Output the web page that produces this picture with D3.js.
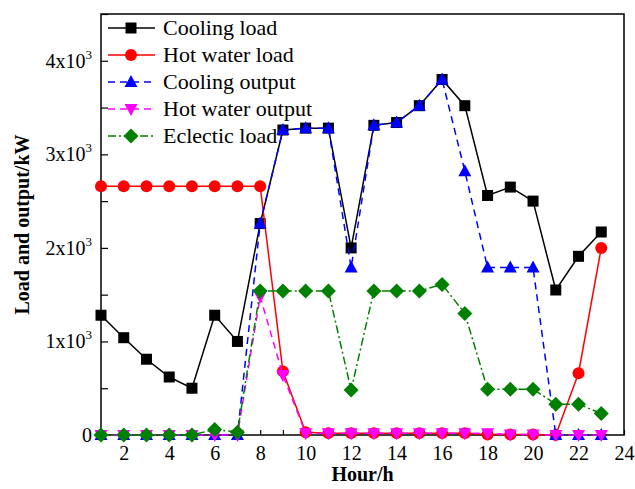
<!DOCTYPE html>
<html>
<head>
<meta charset="utf-8">
<script src="https://cdn.jsdelivr.net/npm/d3@7"></script>
<style>
body { margin: 0; background: #fff; }
text { font-family: "Liberation Serif", "Times New Roman", serif; }
</style>
</head>
<body>
<script>
var hours = d3.range(1, 24);

var coolingLoad = [1280,1040,810,620,500,1280,1000,2260,3260,3280,3280,2000,3310,3340,3520,3800,3520,2560,2650,2500,1550,1910,2170];
var hotWaterLoad = [2660,2660,2660,2660,2660,2660,2660,2660,680,30,20,20,20,20,20,20,20,5,5,5,0,660,2000];
var coolingOutput = [0,0,0,0,0,0,0,2260,3260,3280,3280,1790,3310,3340,3520,3800,2820,1790,1790,1790,0,0,0];
var hotWaterOutput = [0,0,0,0,0,0,0,1480,640,20,20,20,20,20,20,20,20,20,5,5,0,0,0];
var electricLoad = [0,0,0,0,0,60,30,1540,1540,1540,1540,480,1540,1540,1540,1610,1300,490,490,490,330,330,230];

var seriesNames = ["Cooling load","Hot water load","Cooling output","Hot water output","Eclectic load"];
var seriesValues = [coolingLoad, hotWaterLoad, coolingOutput, hotWaterOutput, electricLoad];
var xTicks = [2,4,6,8,10,12,14,16,18,20,22,24];
var yTicks = [0,1000,2000,3000,4000];

var styles = [
  {color:"#000000", dash:null, marker:"square"},
  {color:"#ff0000", dash:null, marker:"circle"},
  {color:"#0000ff", dash:"7,5", marker:"up"},
  {color:"#ff00ff", dash:"7,5", marker:"down"},
  {color:"#008000", dash:"8,3,2,3", marker:"diamond"}
];

var width = 635, height = 489;
var margin = {left:101, right:11, top:14, bottom:54};

var svg = d3.select("body").append("svg").attr("width",width).attr("height",height);

var x = d3.scaleLinear().domain([1,24]).range([margin.left, width-margin.right]);
var y = d3.scaleLinear().domain([0,4500]).range([height-margin.bottom, margin.top]);

// frame
svg.append("rect")
  .attr("x",x(1)).attr("y",y(4500))
  .attr("width",x(24)-x(1)).attr("height",y(0)-y(4500))
  .attr("fill","none").attr("stroke","#000").attr("stroke-width",1.5);

// x axis, ticks inward
var xAxis = svg.append("g").attr("transform","translate(0,"+y(0)+")")
  .call(d3.axisBottom(x).tickValues(d3.range(2,25)).tickSize(-5).tickPadding(11)
    .tickFormat(function(d){ return xTicks.indexOf(d) >= 0 ? d : ""; }));
xAxis.select(".domain").remove();
xAxis.selectAll("line").attr("stroke-width",1.2);
xAxis.selectAll("text").attr("font-size","20px").attr("font-family","Liberation Serif");

// y axis
var yAxis = svg.append("g").attr("transform","translate("+x(1)+",0)")
  .call(d3.axisLeft(y).tickValues(d3.range(0,4501,500)).tickSize(-7).tickPadding(8).tickFormat(""));
yAxis.select(".domain").remove();
yAxis.selectAll("line").attr("stroke-width",1.2);

var yLab = svg.append("g");
yTicks.forEach(function(v){
  var t = yLab.append("text")
    .attr("x", x(1)-9).attr("y", y(v)+7)
    .attr("text-anchor","end").attr("font-size","20px");
  if (v === 0) { t.text("0"); }
  else {
    t.append("tspan").text((v/1000)+"x10");
    t.append("tspan").attr("font-size","13px").attr("dy","-9").text("3");
  }
});

// axis titles
svg.append("text")
  .attr("x", (x(1)+x(24))/2).attr("y", 481)
  .attr("text-anchor","middle").attr("font-size","20px").attr("font-weight","bold")
  .text("Hour/h");
svg.append("text")
  .attr("transform","translate(29,"+((y(0)+y(4500))/2)+") rotate(-90)")
  .attr("text-anchor","middle").attr("font-size","20px").attr("font-weight","bold")
  .text("Load and output/kW");

function drawMarker(g, type, cx, cy, color) {
  if (type === "square") {
    g.append("rect").attr("x",cx-5.5).attr("y",cy-5.5).attr("width",11).attr("height",11).attr("fill",color);
  } else if (type === "circle") {
    g.append("circle").attr("cx",cx).attr("cy",cy).attr("r",6).attr("fill",color);
  } else if (type === "up") {
    g.append("path").attr("d","M"+cx+","+(cy-7)+"L"+(cx+6.5)+","+(cy+5)+"L"+(cx-6.5)+","+(cy+5)+"Z").attr("fill",color);
  } else if (type === "down") {
    g.append("path").attr("d","M"+cx+","+(cy+7)+"L"+(cx+6.5)+","+(cy-5)+"L"+(cx-6.5)+","+(cy-5)+"Z").attr("fill",color);
  } else if (type === "diamond") {
    g.append("path").attr("d","M"+cx+","+(cy-7.5)+"L"+(cx+7.5)+","+cy+"L"+cx+","+(cy+7.5)+"L"+(cx-7.5)+","+cy+"Z").attr("fill",color);
  }
}

var line = d3.line().x(function(d,i){ return x(hours[i]); }).y(function(d){ return y(d); });

var plot = svg.append("g");
seriesValues.forEach(function(vals, si){
  var st = styles[si];
  var g = plot.append("g");
  g.append("path").datum(vals)
    .attr("d", line).attr("fill","none")
    .attr("stroke", st.color).attr("stroke-width",1.5)
    .attr("stroke-dasharray", st.dash);
  vals.forEach(function(v,i){ drawMarker(g, st.marker, x(hours[i]), y(v), st.color); });
});

// legend
var leg = svg.append("g");
seriesNames.forEach(function(name, i){
  var st = styles[i];
  var ly = 28 + i*27;
  leg.append("line").attr("x1",108).attr("x2",155).attr("y1",ly).attr("y2",ly)
    .attr("stroke",st.color).attr("stroke-width",1.5).attr("stroke-dasharray",st.dash);
  drawMarker(leg, st.marker, 131, ly, st.color);
  leg.append("text").attr("x",163).attr("y",ly+7).attr("font-size","22px").text(name);
});
</script>
</body>
</html>
